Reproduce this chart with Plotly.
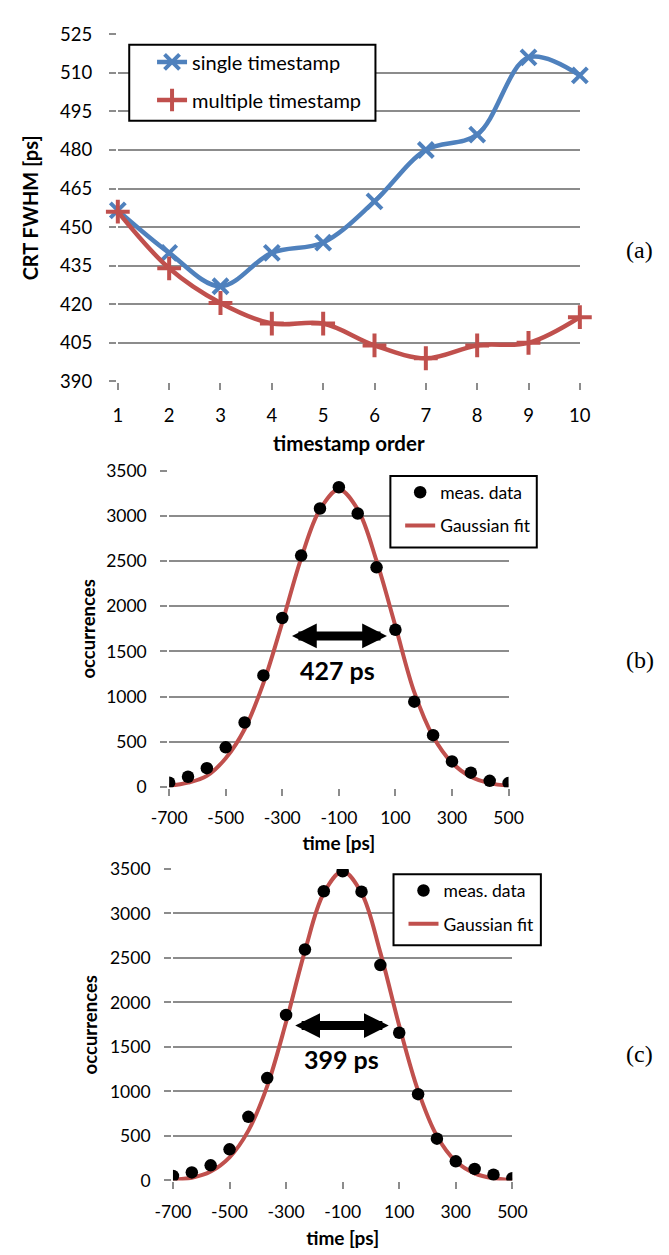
import plotly.graph_objects as go

# ---------------- data ----------------
order = [1, 2, 3, 4, 5, 6, 7, 8, 9, 10]
single_ts = [456.5, 440, 427, 440, 444, 460, 480, 486, 516, 509]
multiple_ts = [456, 434, 420.5, 412.5, 412.5, 404, 399, 404, 405, 415]

time_ps = [-700, -633.3, -566.7, -500, -433.3, -366.7, -300, -233.3, -166.7, -100,
           -33.3, 33.3, 100, 166.7, 233.3, 300, 366.7, 433.3, 500]
meas_b = [50, 115, 210, 440, 715, 1235, 1870, 2560, 3080, 3315,
          3025, 2430, 1740, 945, 575, 285, 160, 70, 45]
fit_b = [15, 50, 125, 320, 640, 1150, 1820, 2530, 3070, 3290,
         3070, 2500, 1780, 1050, 560, 270, 115, 45, 15]
meas_c = [50, 90, 170, 350, 715, 1150, 1860, 2595, 3250, 3475,
          3245, 2420, 1660, 970, 470, 215, 130, 65, 25]
fit_c = [10, 30, 100, 260, 560, 1060, 1780, 2580, 3230, 3475,
         3230, 2560, 1740, 1010, 500, 215, 80, 25, 8]

time_tickvals = [-700, -500, -300, -100, 100, 300, 500]
time_ticktext = ["-700", "-500", "-300", "-100", "100", "300", "500"]

fwhm_b = "427 ps"
fwhm_c = "399 ps"

BLUE = "#4F81BD"
RED = "#C0504D"
GRID = "#8C8C8C"
FONT = "Lato"

W, H = 669, 1255


def px_x(p):
    return p / W


def px_y(p):
    return 1 - p / H


fig = go.Figure()

# ---------------- panel (a) ----------------
fig.add_trace(go.Scatter(
    x=order, y=single_ts, name="single timestamp", mode="lines+markers",
    line=dict(color=BLUE, width=4.5, shape="spline", smoothing=1.0),
    marker=dict(symbol="x-thin", size=15, line=dict(color=BLUE, width=4), color=BLUE),
    cliponaxis=False, xaxis="x", yaxis="y", legend="legend", legendgroup="s"))
fig.add_trace(go.Scatter(
    x=order, y=multiple_ts, name="multiple timestamp", mode="lines+markers",
    line=dict(color=RED, width=4.5, shape="spline", smoothing=1.0),
    marker=dict(symbol="cross-thin", size=17, line=dict(color=RED, width=4), color=RED),
    cliponaxis=False, xaxis="x", yaxis="y", legend="legend", legendgroup="m"))

# ---------------- panel (b) ----------------
fig.add_trace(go.Scatter(
    x=time_ps, y=meas_b, name="meas. data", mode="markers",
    marker=dict(color="black", size=12.5), cliponaxis=False, zorder=1,
    xaxis="x2", yaxis="y2", legend="legend2", legendgroup="d"))
fig.add_trace(go.Scatter(
    x=time_ps, y=fit_b, name="Gaussian fit", mode="lines",
    line=dict(color=RED, width=4, shape="spline", smoothing=1.0), cliponaxis=False,
    xaxis="x2", yaxis="y2", legend="legend2", legendgroup="f"))

# ---------------- panel (c) ----------------
fig.add_trace(go.Scatter(
    x=time_ps, y=meas_c, name="meas. data", mode="markers",
    marker=dict(color="black", size=12.5), cliponaxis=False, zorder=1,
    xaxis="x3", yaxis="y3", legend="legend3", legendgroup="d"))
fig.add_trace(go.Scatter(
    x=time_ps, y=fit_c, name="Gaussian fit", mode="lines",
    line=dict(color=RED, width=4, shape="spline", smoothing=1.0), cliponaxis=False,
    xaxis="x3", yaxis="y3", legend="legend3", legendgroup="f"))


def tfont(size):
    return dict(family=FONT, size=size, color="black")


def bfont(size):
    return dict(family=FONT, size=size, color="black", weight="bold")


common_x = dict(showgrid=False, showline=True, linecolor=GRID, linewidth=1.8,
                ticks="outside", ticklen=7, tickcolor=GRID, tickwidth=1.8,
                zeroline=False)
common_y = dict(showgrid=True, gridcolor=GRID, gridwidth=1.8, showline=True,
                linecolor=GRID, linewidth=1.8, ticks="outside", ticklen=7,
                tickcolor=GRID, tickwidth=1.8, zeroline=False)

legend_common = dict(bgcolor="rgba(0,0,0,0)", borderwidth=0, xanchor="left",
                     yanchor="top", traceorder="grouped")

fig.update_layout(
    width=W, height=H, margin=dict(l=0, r=0, t=0, b=0),
    paper_bgcolor="white", plot_bgcolor="white",
    xaxis=dict(common_x, domain=[px_x(105), px_x(591)], range=[1, 10],
               tickvals=order, anchor="y", tickfont=tfont(18.5), ticklabelstandoff=9,
               title=dict(text="timestamp order", font=bfont(20.5), standoff=12)),
    yaxis=dict(common_y, domain=[px_y(376), px_y(22.7)], range=[390, 525],
               tick0=390, dtick=15, anchor="x", tickfont=tfont(18.5),
               ticklabelstandoff=13,
               title=dict(text="CRT FWHM [ps]", font=bfont(20), standoff=16)),
    xaxis2=dict(common_x, domain=[px_x(159), px_x(516)], range=[-700, 500],
                tickvals=time_tickvals, ticktext=time_ticktext, anchor="y2",
                tickfont=tfont(17.5), ticklabelstandoff=7,
                title=dict(text="time [ps]", font=bfont(19), standoff=10)),
    yaxis2=dict(common_y, domain=[px_y(789), px_y(466.7)], range=[0, 3500],
                dtick=500, anchor="x2", tickfont=tfont(17.5), ticklabelstandoff=10,
                title=dict(text="occurrences", font=bfont(18.5), standoff=6)),
    xaxis3=dict(common_x, domain=[px_x(163), px_x(520)], range=[-700, 500],
                tickvals=time_tickvals, ticktext=time_ticktext, anchor="y3",
                tickfont=tfont(17.5), ticklabelstandoff=8,
                title=dict(text="time [ps]", font=bfont(19), standoff=10)),
    yaxis3=dict(common_y, domain=[px_y(1189.3), px_y(872.3)], range=[0, 3500],
                dtick=500, anchor="x3", tickfont=tfont(17.5), ticklabelstandoff=10,
                title=dict(text="occurrences", font=bfont(18.5), standoff=7)),
    legend=dict(legend_common, x=px_x(141), y=px_y(31), tracegroupgap=9,
                font=tfont(20)),
    legend2=dict(legend_common, x=px_x(402), y=px_y(470.6), tracegroupgap=7.5,
                 font=tfont(17.5)),
    legend3=dict(legend_common, x=px_x(405.5), y=px_y(876), tracegroupgap=7.5,
                 font=tfont(17.5)),
    showlegend=True,
)

# legend frames
for (x0, y0, x1, y1) in [(117, 33.3, 376, 110.7), (391.7, 472.3, 545.7, 545),
                         (395, 877.7, 550, 950)]:
    fig.add_shape(type="rect", xref="paper", yref="paper",
                  x0=px_x(x0), x1=px_x(x1), y0=px_y(y1), y1=px_y(y0),
                  line=dict(color="black", width=2), fillcolor="white", layer="above")

# FWHM arrows and labels
for xr, yr, y_arrow, x0, x1, ytxt, label in [
        ("x2", "y2", 1672, -271, 70, 1300, fwhm_b),
        ("x3", "y3", 1740, -273, 63, 1365, fwhm_c)]:
    fig.add_annotation(x=x1, y=y_arrow, ax=x0, ay=y_arrow, xref=xr, yref=yr,
                       axref=xr, ayref=yr, showarrow=True, text="",
                       arrowside="end+start", arrowhead=2, startarrowhead=2,
                       arrowsize=0.55, startarrowsize=0.55, arrowwidth=9,
                       arrowcolor="black")
    fig.add_annotation(x=-105, y=ytxt, xref=xr, yref=yr, showarrow=False,
                       text=label, font=bfont(25))

# panel labels
for lab, yy in [("(a)", 242), ("(b)", 660), ("(c)", 1061)]:
    fig.add_annotation(x=px_x(654), y=px_y(yy), xref="paper", yref="paper",
                       xanchor="center", yanchor="middle",
                       text=lab, showarrow=False,
                       font=dict(family="Liberation Serif", size=24, color="black"))

fig.write_html("out.html")
